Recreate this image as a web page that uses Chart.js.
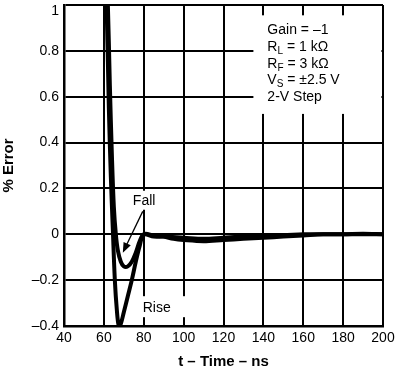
<!DOCTYPE html>
<html>
<head>
<meta charset="utf-8">
<script src="https://cdn.jsdelivr.net/npm/chart.js@4/dist/chart.umd.min.js"></script>
<style>
  html, body { margin: 0; padding: 0; background: #fff; }
  #wrap { width: 400px; height: 371px; }
</style>
</head>
<body>
<div id="wrap"><canvas id="errChart" width="400" height="371"></canvas></div>
<script>
// данные
const xTicks = [40, 60, 80, 100, 120, 140, 160, 180, 200];
const yTickLabels = ['–0.4', '–0.2', '0', '0.2', '0.4', '0.6', '0.8', '1'];

const riseT = [60.5, 61.5, 62.5, 63.5, 64.5, 65.5, 66.5, 67.5, 68.5, 70, 72, 74, 76, 78, 80, 85, 90, 95, 100, 110, 120, 130, 140, 150, 160, 170, 180, 190, 200];
const riseY = [1.2, 0.95, 0.55, 0.25, 0.02, -0.2, -0.33, -0.4, -0.39, -0.34, -0.27, -0.2, -0.12, -0.05, 0.0, -0.005, -0.01, -0.02, -0.025, -0.03, -0.025, -0.02, -0.015, -0.01, -0.005, 0, 0, 0.002, 0];

const fallT = [61, 62, 63, 64, 65, 66, 67, 68.5, 70, 72, 74, 76, 78, 80, 85, 90, 100, 110, 120, 130, 140, 160, 180, 200];
const fallY = [1.2, 1.0, 0.65, 0.35, 0.12, 0.0, -0.07, -0.12, -0.14, -0.14, -0.12, -0.08, -0.03, 0.0, -0.01, -0.01, -0.015, -0.02, -0.015, -0.01, -0.008, 0, 0, 0];

const noteLines = [
    ['Gain = –1', '', ''],
    ['R', 'L', ' = 1 kΩ'],
    ['R', 'F', ' = 3 kΩ'],
    ['V', 'S', ' = ±2.5 V'],
    ['2-V Step', '', '']
];

const FONT = '"Liberation Sans", Arial, Helvetica, sans-serif';

function toPts(ts, ys) {
    return ts.map((t, i) => ({ x: t, y: ys[i] }));
}

// подписи, рамка и стрелка
const notesPlugin = {
    id: 'notes',
    beforeDatasetsDraw(chart) {
        const { ctx, scales: { x, y } } = chart;
        ctx.save();
        ctx.fillStyle = '#fff';
        // белая рамка под текст
        ctx.fillRect(x.getPixelForValue(135), y.getPixelForValue(0.955),
            x.getPixelForValue(199.2) - x.getPixelForValue(135),
            y.getPixelForValue(0.525) - y.getPixelForValue(0.955));
        // фон под "Fall" и "Rise"
        ctx.fillRect(x.getPixelForValue(76), y.getPixelForValue(0.19), 34, 19);
        ctx.fillRect(x.getPixelForValue(78), y.getPixelForValue(-0.27), 46, 21);
        ctx.restore();
    },
    afterDatasetsDraw(chart) {
        const { ctx, scales: { x, y } } = chart;
        ctx.save();
        ctx.fillStyle = '#000';
        ctx.strokeStyle = '#000';
        ctx.font = '14px ' + FONT;
        ctx.textBaseline = 'middle';
        ctx.textAlign = 'center';
        ctx.fillText('Fall', x.getPixelForValue(80.2), y.getPixelForValue(0.145));
        ctx.fillText('Rise', x.getPixelForValue(86.5), y.getPixelForValue(-0.32));

        // верхняя подпись оси "1" — ниже линии, как в оригинале
        ctx.textAlign = 'right';
        ctx.textBaseline = 'top';
        ctx.fillText(yTickLabels[yTickLabels.length - 1], x.left - 5, y.getPixelForValue(1) - 1);

        // стрелка к Fall
        const x0 = x.getPixelForValue(79.5), y0 = y.getPixelForValue(0.1);
        const x1 = x.getPixelForValue(69.5), y1 = y.getPixelForValue(-0.08);
        const ang = Math.atan2(y1 - y0, x1 - x0);
        ctx.lineWidth = 1.3;
        ctx.beginPath();
        ctx.moveTo(x0, y0);
        ctx.lineTo(x1 - 6 * Math.cos(ang), y1 - 6 * Math.sin(ang));
        ctx.stroke();
        ctx.beginPath();
        ctx.moveTo(x1, y1);
        ctx.lineTo(x1 - 10 * Math.cos(ang) + 4 * Math.sin(ang), y1 - 10 * Math.sin(ang) - 4 * Math.cos(ang));
        ctx.lineTo(x1 - 10 * Math.cos(ang) - 4 * Math.sin(ang), y1 - 10 * Math.sin(ang) + 4 * Math.cos(ang));
        ctx.closePath();
        ctx.fill();

        // текст с условиями
        ctx.textAlign = 'left';
        ctx.textBaseline = 'middle';
        const left = x.getPixelForValue(142);
        let ty = y.getPixelForValue(0.89);
        noteLines.forEach(([a, sub, b]) => {
            let cx = left;
            ctx.font = '14px ' + FONT;
            ctx.fillText(a, cx, ty);
            cx += ctx.measureText(a).width;
            if (sub) {
                ctx.font = '10px ' + FONT;
                ctx.fillText(sub, cx, ty + 4);
                cx += ctx.measureText(sub).width;
                ctx.font = '14px ' + FONT;
                ctx.fillText(b, cx, ty);
            }
            ty += 16.8;
        });
        ctx.restore();
    }
};

new Chart(document.getElementById('errChart').getContext('2d'), {
    type: 'line',
    data: {
        datasets: [{
            label: 'Rise',
            data: toPts(riseT, riseY),
            borderColor: '#000',
            borderWidth: 4,
            pointRadius: 0,
            fill: false,
            tension: 0.35
        }, {
            label: 'Fall',
            data: toPts(fallT, fallY),
            borderColor: '#000',
            borderWidth: 4,
            pointRadius: 0,
            fill: false,
            tension: 0.35
        }]
    },
    options: {
        responsive: false,
        animation: false,
        layout: { padding: { top: 5, right: 17, left: 0, bottom: 0 } },
        plugins: {
            legend: { display: false },
            tooltip: { enabled: false }
        },
        scales: {
            x: {
                type: 'linear',
                min: 40,
                max: 200,
                afterBuildTicks(scale) { scale.ticks = xTicks.map(v => ({ value: v })); },
                afterFit(scale) { scale.height = 45; scale.paddingLeft = 0; scale.paddingRight = 0; },
                grid: { color: '#000', lineWidth: 2, drawTicks: false },
                border: { color: '#000', width: 2.5 },
                ticks: {
                    color: '#000',
                    padding: 4,
                    font: { family: FONT, size: 14 }
                },
                title: {
                    display: true,
                    text: 't – Time – ns',
                    color: '#000',
                    padding: { top: 5, bottom: 0 },
                    font: { family: FONT, size: 15, weight: 'bold' }
                }
            },
            y: {
                min: -0.4,
                max: 1,
                afterFit(scale) { scale.width = 64; scale.paddingTop = 0; scale.paddingBottom = 0; },
                grid: { color: '#000', lineWidth: 2, drawTicks: false },
                border: { color: '#000', width: 2.5 },
                ticks: {
                    stepSize: 0.2,
                    color: '#000',
                    padding: 5,
                    font: { family: FONT, size: 14 },
                    // верхнюю подпись рисует плагин
                    callback: (v, i) => (i === yTickLabels.length - 1 ? '' : yTickLabels[i])
                },
                title: {
                    display: true,
                    text: '% Error',
                    color: '#000',
                    padding: { top: 0, bottom: 2 },
                    font: { family: FONT, size: 15, weight: 'bold' }
                }
            }
        }
    },
    plugins: [notesPlugin]
});
</script>
</body>
</html>
